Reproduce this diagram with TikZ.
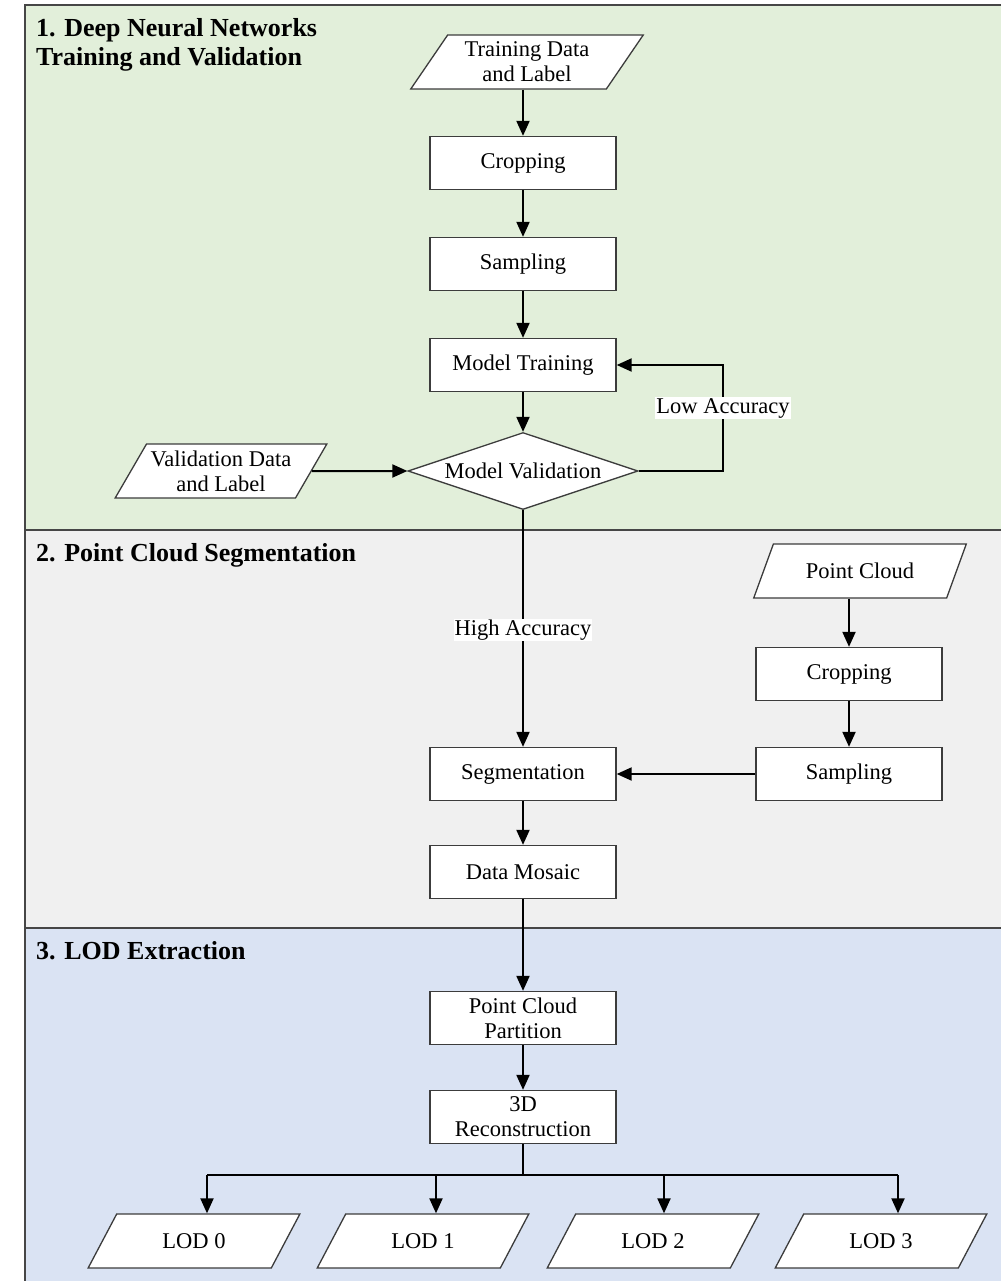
\documentclass[tikz,border=0pt]{standalone}
\usepackage{fontspec}
\setmainfont{Liberation Serif}
\usetikzlibrary{arrows.meta,shapes.geometric}
\definecolor{pgreen}{RGB}{226,239,218}
\definecolor{pgray}{RGB}{240,240,240}
\definecolor{pblue}{RGB}{218,227,243}
\definecolor{bordc}{RGB}{70,70,70}
\definecolor{boxc}{RGB}{60,60,60}
\tikzset{
  txt/.style={font=\fontsize{22.5}{25}\selectfont},
  procbox/.style={txt, draw=boxc, line width=1.3pt, fill=white, rectangle, minimum width=186pt, minimum height=53pt, inner sep=2pt, align=center},
  iobox/.style={txt, draw=boxc, line width=1.3pt, fill=white, trapezium, trapezium left angle=55, trapezium right angle=125, trapezium stretches=true, minimum height=54pt, inner sep=1pt, align=center},
  decbox/.style={txt, draw=boxc, line width=1.3pt, fill=white, diamond, aspect=3, minimum width=230pt, minimum height=77pt, inner sep=0pt},
  arr/.style={line width=2pt, -{Triangle[length=15pt,width=13pt]}},
  ln/.style={line width=2pt},
  title/.style={font=\fontsize{26}{29}\selectfont\bfseries, anchor=west, align=left, inner sep=0pt},
}
\begin{document}
\begin{tikzpicture}[x=1pt,y=-1pt]
\useasboundingbox (0,0) rectangle (1001,1281);
\fill[white] (0,0) rectangle (1001,1281);
% panels
\fill[pgreen] (25,5) rectangle (1001,530);
\fill[pgray] (25,530) rectangle (1001,928);
\fill[pblue] (25,928) rectangle (1001,1281);
\draw[bordc, line width=2pt] (1001,5) -- (25,5) -- (25,1281);
\draw[bordc, line width=2pt] (25,530) -- (1001,530);
\draw[bordc, line width=2pt] (25,928) -- (1001,928);
% titles
\node[title] (t1) at (36,45) {1. Deep Neural Networks\\Training and Validation};
\node[title] (t2) at (36,555) {2. Point Cloud Segmentation};
\node[title] (t3) at (36,951) {3. LOD Extraction};
% section 1
\node[iobox, minimum width=233pt] (td) at (527,62) {Training Data\\and Label};
\node[procbox] (c1) at (523,163) {Cropping};
\node[procbox] (s1) at (523,264) {Sampling};
\node[procbox] (mt) at (523,365) {Model Training};
\node[decbox] (mv) at (523,471) {Model Validation};
\node[iobox, minimum width=212pt] (vd) at (221,471) {Validation Data\\and Label};
\draw[arr] (td.south -| c1.north) -- (c1.north);
\draw[arr] (c1) -- (s1);
\draw[arr] (s1) -- (mt);
\draw[arr] (mt) -- (mv);
\draw[arr] (vd.east) -- (mv.west);
\coordinate (lowc) at (723,471);
\draw[arr] (mv.east) -- (lowc) |- (mt.east);
\node[txt, fill=white, inner sep=1pt] (low) at (723,408) {Low Accuracy};
% section 2
\node[iobox, minimum width=213pt] (pc) at (860,571) {Point Cloud};
\node[procbox] (c2) at (849,674) {Cropping};
\node[procbox] (s2) at (849,774) {Sampling};
\node[procbox] (seg) at (523,774) {Segmentation};
\node[procbox] (dm) at (523,872) {Data Mosaic};
\draw[arr] (mv.south) -- (seg.north);
\node[txt, fill=white, inner sep=1pt] (high) at (523,630) {High Accuracy};
\draw[arr] (pc.south -| c2.north) -- (c2.north);
\draw[arr] (c2) -- (s2);
\draw[arr] (s2) -- (seg);
\draw[arr] (seg) -- (dm);
% section 3
\node[procbox] (pcp) at (523,1018) {Point Cloud\\Partition};
\node[procbox] (rec) at (523,1117) {3D\\Reconstruction};
\draw[arr] (dm) -- (pcp);
\draw[arr] (pcp) -- (rec);
\node[iobox, minimum width=212pt] (l0) at (194,1241) {LOD 0};
\node[iobox, minimum width=212pt] (l1) at (423,1241) {LOD 1};
\node[iobox, minimum width=212pt] (l2) at (653,1241) {LOD 2};
\node[iobox, minimum width=212pt] (l3) at (881,1241) {LOD 3};
\coordinate (bm) at (523,1175);
\coordinate (b0) at (207,1175);
\coordinate (b1) at (436,1175);
\coordinate (b2) at (664,1175);
\coordinate (b3) at (898,1175);
\draw[ln] (rec.south) -- (bm);
\draw[ln] (b0) -- (b3);
\draw[arr] (b0) -- (b0 |- l0.north);
\draw[arr] (b1) -- (b1 |- l1.north);
\draw[arr] (b2) -- (b2 |- l2.north);
\draw[arr] (b3) -- (b3 |- l3.north);
\end{tikzpicture}
\end{document}
